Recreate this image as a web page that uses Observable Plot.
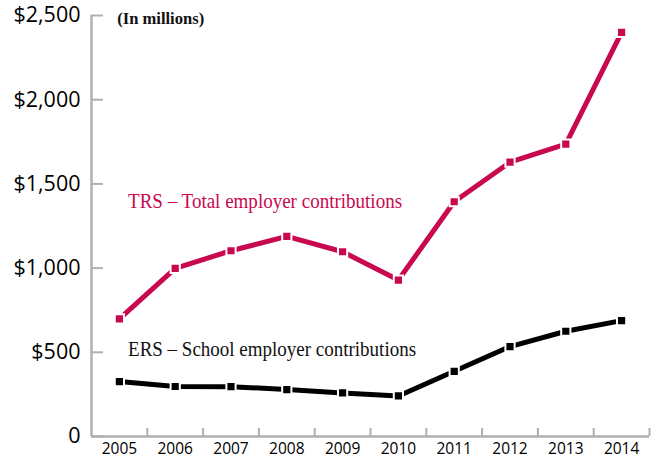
<!DOCTYPE html>
<html>
<head>
<meta charset="utf-8">
<script src="https://cdn.jsdelivr.net/npm/d3@7"></script>
<script src="https://cdn.jsdelivr.net/npm/@observablehq/plot@0.6"></script>
<style>
  html, body { margin: 0; padding: 0; background: #fff; }
  #chart svg { display: block; }
</style>
</head>
<body>
<div id="chart"></div>
<script>
const years = [2005, 2006, 2007, 2008, 2009, 2010, 2011, 2012, 2013, 2014];
const trs = [698, 998, 1103, 1188, 1097, 929, 1394, 1629, 1736, 2400];
const ers = [326, 297, 296, 279, 259, 241, 387, 534, 625, 688];
const yTicks = [0, 500, 1000, 1500, 2000, 2500];
const trsLabel = "TRS – Total employer contributions";
const ersLabel = "ERS – School employer contributions";
const unitLabel = "(In millions)";

const trsColor = "#c8084f";
const axisColor = "#aeb0b3";

const trsData = years.map((y, i) => ({year: y, value: trs[i]}));
const ersData = years.map((y, i) => ({year: y, value: ers[i]}));
const boundaries = years.map(y => y + 0.5);

const fmt = d => d === 0 ? "0" : "$" + d3.format(",")(d);

const chart = Plot.plot({
  width: 652,
  height: 460,
  marginLeft: 91,
  marginRight: 3,
  marginTop: 15,
  marginBottom: 24,
  style: {fontFamily: "'Open Sans', sans-serif", background: "#fff"},
  x: {domain: [2004.5, 2014.5]},
  y: {domain: [0, 2500]},
  marks: [
    Plot.ruleY(yTicks, {stroke: axisColor, strokeWidth: 2, insetRight: 546}),
    Plot.ruleX(boundaries, {stroke: axisColor, strokeWidth: 2, insetTop: 413}),
    Plot.ruleX([2004.5], {stroke: axisColor, strokeWidth: 2.5}),
    Plot.ruleY([0], {stroke: axisColor, strokeWidth: 2.5}),
    Plot.axisY({ticks: yTicks, tickSize: 0, tickPadding: 11, tickFormat: fmt, fontSize: 21.5, fill: "#000", label: null}),
    Plot.axisX({ticks: years, tickSize: 0, tickPadding: 6, tickFormat: d => String(d), fontSize: 15.5, fill: "#000", label: null}),
    Plot.line(trsData, {x: "year", y: "value", stroke: trsColor, strokeWidth: 5}),
    Plot.line(ersData, {x: "year", y: "value", stroke: "#000", strokeWidth: 5}),
    Plot.dot(trsData, {x: "year", y: "value", symbol: "square", r: 5.2, fill: trsColor, stroke: "#fff", strokeWidth: 2}),
    Plot.dot(ersData, {x: "year", y: "value", symbol: "square", r: 5.2, fill: "#000", stroke: "#fff", strokeWidth: 2}),
    Plot.text([trsLabel], {x: 2005.155, y: 1394, text: d => d, textAnchor: "start", fill: trsColor, fontSize: 21, fontFamily: "'Liberation Serif', serif", className: "lbl-trs"}),
    Plot.text([ersLabel], {x: 2005.155, y: 520, text: d => d, textAnchor: "start", fill: "#111", fontSize: 21, fontFamily: "'Liberation Serif', serif", className: "lbl-ers"}),
    Plot.text([unitLabel], {x: 2004.96, y: 2479, text: d => d, textAnchor: "start", fill: "#111", fontSize: 16.5, fontWeight: "bold", fontFamily: "'Liberation Serif', serif", className: "lbl-unit"})
  ]
});
document.getElementById("chart").appendChild(chart);
// condense the serif labels to the reference's narrower typeface widths
const fit = (cls, len) => d3.select(chart).selectAll(`g.${cls} text`).attr("textLength", len).attr("lengthAdjust", "spacingAndGlyphs");
fit("lbl-trs", 274);
fit("lbl-ers", 288);
fit("lbl-unit", 87);
</script>
</body>
</html>
